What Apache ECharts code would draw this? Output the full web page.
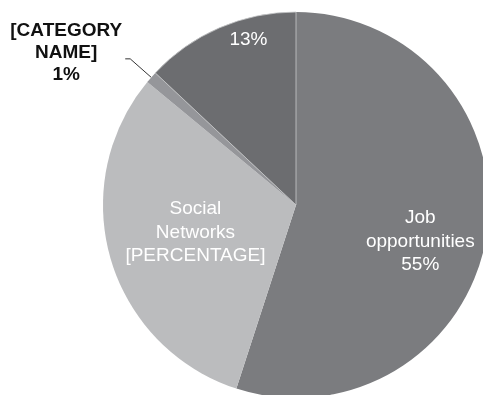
<!DOCTYPE html>
<html>
<head>
<meta charset="utf-8">
<script src="https://cdn.jsdelivr.net/npm/echarts@6/dist/echarts.min.js"></script>
<style>
  html, body { margin: 0; padding: 0; background: #fff; }
  #chart { width: 483px; height: 395px; }
</style>
</head>
<body>
<div id="chart"></div>
<script>
// Share of respondents by source
const categories = ['Job\nopportunities', 'Social\nNetworks', '[CATEGORY\nNAME]', 'Other'];
const shares = [55, 31, 1, 13];
const sliceColors = ['#7b7c7f', '#bbbcbe', '#95969a', '#6c6d70'];
const labelFormats = ['{b}\n{d}%', '{b}\n[PERCENTAGE]', '{a|{b}\n{d}%}', '{d}%'];
// nudges for the labels drawn inside the slices
const labelNudge = [[26, 21], [-5, 0], [0, 0], [-8, -74]];

const chart = echarts.init(document.getElementById('chart'), null, { renderer: 'canvas' });

const data = categories.map((name, i) => {
  const item = {
    name: name,
    value: shares[i],
    itemStyle: { color: sliceColors[i] },
    label: { formatter: labelFormats[i] }
  };
  if (i === 3) {
    item.itemStyle.borderColor = '#c9cacc';
    item.itemStyle.borderWidth = 0.8;
  }
  if (i === 2) {
    item.label = {
      formatter: labelFormats[i],
      position: 'outside',
      color: '#111',
      fontWeight: 'bold',
      distanceToLabelLine: 0,
      padding: [0, 0, 12, 0],
      rich: {
        a: {
          width: 118,
          align: 'center',
          fontSize: 19,
          fontWeight: 'bold',
          lineHeight: 22,
          color: '#111',
          fontFamily: 'Liberation Sans, Arial, sans-serif'
        }
      }
    };
    item.labelLine = {
      show: true,
      length: 28,
      length2: 5,
      lineStyle: { color: '#333', width: 1 }
    };
  }
  return item;
});

chart.setOption({
  animation: false,
  series: [{
    type: 'pie',
    center: [296, 205],
    radius: 193,
    startAngle: 90,
    clockwise: true,
    avoidLabelOverlap: false,
    label: {
      show: true,
      position: 'inside',
      color: '#ffffff',
      fontSize: 19,
      lineHeight: 23.5,
      fontFamily: 'Liberation Sans, Arial, sans-serif',
      align: 'center'
    },
    labelLine: { show: false },
    emphasis: { disabled: true },
    labelLayout: function (params) {
      const n = labelNudge[params.dataIndex];
      if (params.dataIndex === 2) return {};
      return { dx: n[0], dy: n[1] };
    },
    data: data
  }]
});
</script>
</body>
</html>
